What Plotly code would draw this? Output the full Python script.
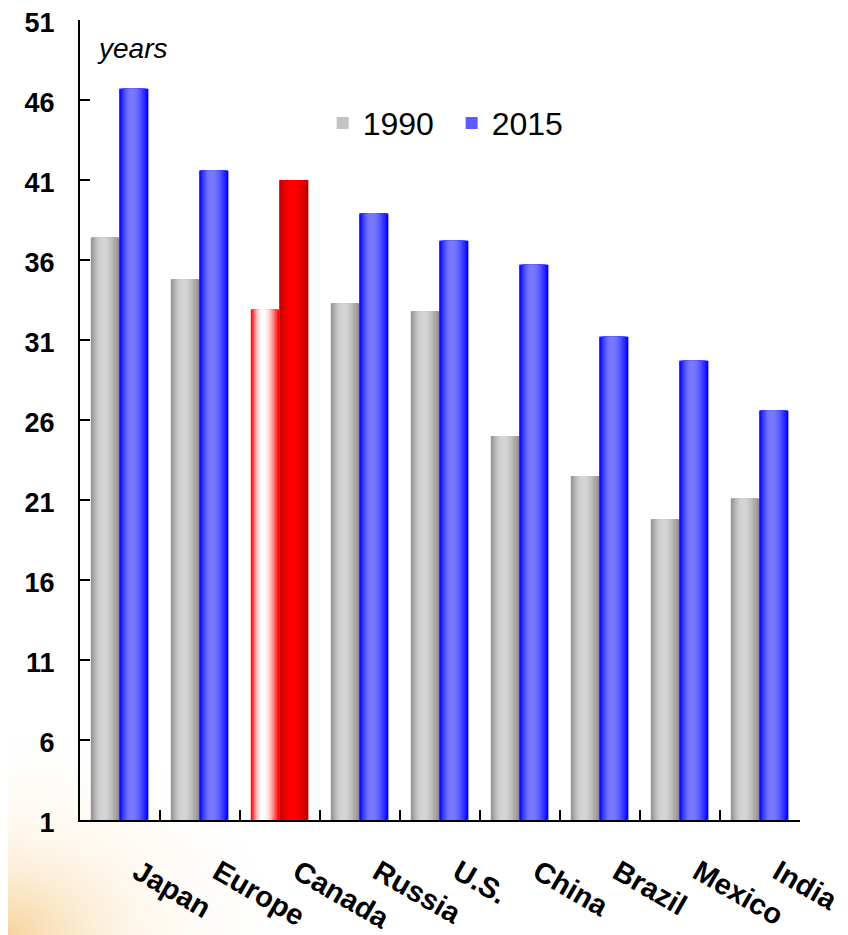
import math
import base64
import plotly.graph_objects as go

countries = ["Japan", "Europe", "Canada", "Russia", "U.S.", "China", "Brazil", "Mexico", "India"]
age_1990 = [37.4, 34.8, 32.9, 33.3, 32.8, 25.0, 22.5, 19.8, 21.1]
age_2015 = [46.7, 41.6, 41.0, 38.9, 37.2, 35.7, 31.2, 29.7, 26.6]
highlight = "Canada"

FONT = "Arial, Liberation Sans, sans-serif"

# edge / centre colours of the shaded bars
GREY = ((145, 145, 145), (212, 212, 212))
BLUE = ((0, 0, 255), (122, 122, 255))
RED_1990 = ((255, 0, 0), (255, 255, 255))
RED_2015 = ((190, 0, 0), (255, 0, 0))


def mix(c1, c2, t):
    return "rgb(%d,%d,%d)" % tuple(round(a + (b - a) * t) for a, b in zip(c1, c2))


def shaded_bars(fig, y, name, left, right, normal, special, peak=0.42, steps=14):
    # nested bars, narrowing towards the bright stripe, fake a horizontal gradient
    p = left + (right - left) * peak
    for k in range(steps):
        t = math.sin(k / (steps - 1) * math.pi / 2)
        lo = left + k * (p - left) / steps
        hi = right - k * (right - p) / steps
        cols = [mix(*(special if c == highlight else normal), t) for c in countries]
        fig.add_bar(
            x=countries, y=y, offset=lo, width=hi - lo,
            marker_color=cols, marker_line_width=0,
            name=name, legendgroup=name, showlegend=(k == steps // 2),
        )


fig = go.Figure()
shaded_bars(fig, age_1990, "1990", -0.365, -0.01, GREY, RED_1990)
shaded_bars(fig, age_2015, "2015", -0.01, 0.355, BLUE, RED_2015)

# page is offset by the browser's 8px body margin, so the figure is 840x927
W, H = 840, 927
ML, MR, MT, MB = 72, 48, 12, 115
PW, PH = W - ML - MR, H - MT - MB

glow = (
    "<svg xmlns='http://www.w3.org/2000/svg' width='840' height='927'>"
    "<defs><radialGradient id='g' cx='0' cy='927' r='300' gradientUnits='userSpaceOnUse' "
    "gradientTransform='translate(0,927) scale(1,0.75) translate(0,-927)'>"
    "<stop offset='0' stop-color='#f0b050' stop-opacity='0.55'/>"
    "<stop offset='0.45' stop-color='#f8d8a0' stop-opacity='0.2'/>"
    "<stop offset='1' stop-color='#ffffff' stop-opacity='0'/></radialGradient></defs>"
    "<rect width='840' height='927' fill='url(#g)'/></svg>"
)
fig.add_layout_image(
    source="data:image/svg+xml;base64," + base64.b64encode(glow.encode()).decode(),
    xref="paper", yref="paper", x=-ML / PW, y=1 + MT / PH,
    sizex=W / PW, sizey=H / PH, sizing="stretch",
    xanchor="left", yanchor="top", layer="below",
)

fig.add_annotation(
    text="years", xref="paper", yref="paper", x=0.021, y=0.965,
    xanchor="left", yanchor="middle", showarrow=False,
    font=dict(family=FONT, size=28, color="black", style="italic"),
)

fig.update_layout(
    width=W, height=H,
    margin=dict(l=ML, r=MR, t=MT, b=MB),
    barmode="overlay",
    paper_bgcolor="white",
    plot_bgcolor="rgba(0,0,0,0)",
    font=dict(family=FONT, color="black"),
    showlegend=True,
    legend=dict(
        orientation="h", x=0.337, y=0.871, xanchor="left", yanchor="middle",
        entrywidth=84,
        font=dict(family=FONT, size=32), bgcolor="rgba(0,0,0,0)",
    ),
    xaxis=dict(
        automargin=False,
        showline=True, linecolor="black", linewidth=2,
        ticks="inside", tickson="boundaries", ticklen=10, tickwidth=2, tickcolor="black",
        tickangle=30, ticklabelshift=18, ticklabelstandoff=22,
        ticklabeloverflow="allow",
        tickfont=dict(family=FONT, size=29, weight="bold"),
        showgrid=False,
    ),
    yaxis=dict(
        automargin=False,
        range=[1, 51], tick0=1, dtick=5,
        showline=True, linecolor="black", linewidth=2,
        ticks="inside", ticklen=10, tickwidth=2, tickcolor="black",
        ticklabelstandoff=18, ticklabelshift=3, ticklabeloverflow="allow",
        tickfont=dict(family=FONT, size=27, weight="bold"),
        showgrid=False, zeroline=False,
    ),
)

fig.write_html("out.html")
